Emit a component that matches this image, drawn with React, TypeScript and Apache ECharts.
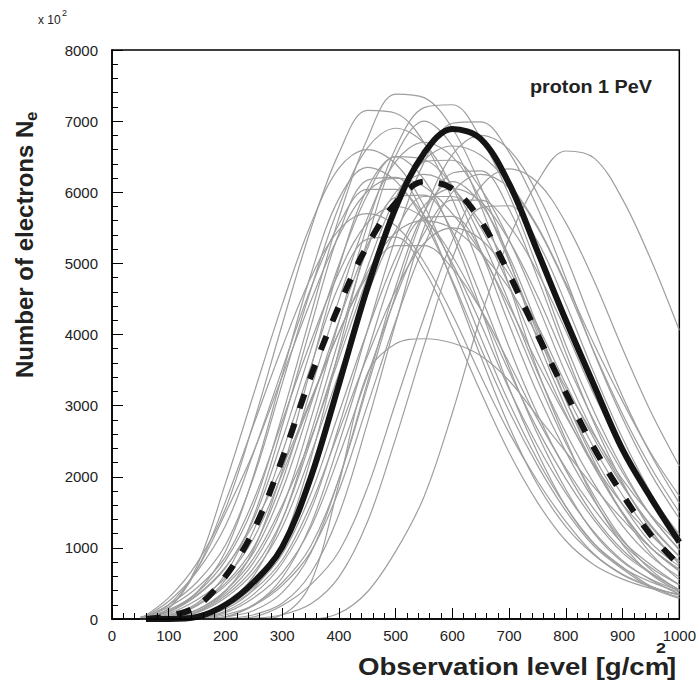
import React, { useEffect, useRef } from "react";
import * as echarts from "echarts";

// Observation levels (g/cm^2) at which the gray showers are sampled
const X_GRID = [50, 100, 150, 200, 250, 300, 350, 400, 450, 500, 550, 600, 650, 700, 750, 800, 850, 900, 950, 1000];

// Individual showers (x 10^2 electrons)
const g01 = [20, 110, 370, 820, 1600, 2860, 4270, 5640, 6750, 7380, 7330, 6900, 6080, 5050, 3930, 2970, 2150, 1480, 1000, 670];
const g02 = [0, 10, 110, 360, 800, 1560, 2800, 4180, 5530, 6620, 7190, 7230, 6760, 5960, 4940, 3850, 2910, 2110, 1450, 980];
const g03 = [0, 300, 790, 1550, 2770, 4140, 5470, 6550, 7150, 7110, 6700, 5900, 4900, 3820, 2880, 2090, 1440, 970, 650, 410];
const g04 = [0, 0, 10, 110, 350, 780, 1520, 2710, 4050, 5360, 6420, 6970, 6990, 6560, 5780, 4790, 3740, 2820, 2040, 1410];
const g05 = [0, 150, 750, 1910, 3170, 4420, 5540, 6340, 6600, 6400, 5810, 4950, 3960, 3040, 2240, 1580, 1060, 730, 460, 300];
const g06 = [0, 0, 0, 30, 200, 510, 1020, 1970, 3260, 4560, 5710, 6530, 6800, 6600, 5980, 5100, 4080, 3130, 2310, 1630];
const g07 = [0, 0, 0, 0, 30, 190, 480, 950, 1840, 3040, 4240, 5320, 6080, 6330, 6140, 5570, 4750, 3800, 2910, 2150];
const g08 = [0, 0, 40, 140, 420, 1050, 2240, 3780, 5320, 6510, 7000, 6650, 5810, 4690, 3500, 2520, 1680, 1050, 630, 390];
const g09 = [0, 200, 520, 1040, 2000, 3310, 4620, 5800, 6620, 6900, 6690, 6070, 5180, 4140, 3170, 2350, 1660, 1100, 760, 480];
const g10 = [0, 30, 130, 400, 860, 1600, 2530, 3660, 4790, 5790, 6450, 6650, 6520, 6120, 5520, 4720, 3860, 3060, 2330, 1730];
const g11 = [30, 130, 380, 950, 2030, 3430, 4830, 5910, 6350, 6160, 5590, 4760, 3810, 2920, 2160, 1520, 1020, 700, 440, 290];
const g12 = [10, 100, 330, 720, 1410, 2520, 3770, 4980, 5960, 6500, 6460, 6090, 5370, 4450, 3470, 2620, 1900, 1310, 880, 590];
const g13 = [0, 10, 100, 330, 720, 1400, 2500, 3740, 4940, 5920, 6430, 6450, 6050, 5330, 4420, 3450, 2600, 1890, 1300, 880];
const g14 = [0, 0, 0, 10, 60, 220, 640, 1470, 2750, 4160, 5500, 6270, 6300, 5760, 4800, 3740, 2750, 1920, 1250, 770];
const g15 = [10, 60, 220, 630, 1450, 2710, 4100, 5420, 6170, 6210, 5670, 4730, 3690, 2710, 1890, 1300, 900, 620, 450, 340];
const g16 = [0, 30, 190, 470, 940, 1810, 3000, 4190, 5250, 6000, 6250, 6060, 5500, 4690, 3750, 2880, 2130, 1500, 1000, 690];
const g17 = [0, 200, 700, 1490, 2360, 3410, 4460, 5390, 6010, 6200, 6080, 5700, 5150, 4400, 3600, 2850, 2170, 1610, 1180, 810];
const g18 = [0, 0, 0, 30, 120, 370, 920, 1970, 3320, 4670, 5720, 6150, 5840, 5100, 4120, 3080, 2210, 1480, 920, 550];
const g19 = [0, 0, 0, 30, 190, 470, 940, 1810, 3000, 4190, 5250, 6000, 6250, 6060, 5500, 4690, 3750, 2880, 2130, 1500];
const g20 = [0, 250, 670, 1310, 2350, 3510, 4640, 5550, 6040, 6040, 5670, 5000, 4150, 3230, 2440, 1770, 1220, 820, 550, 350];
const g21 = [0, 10, 60, 210, 610, 1390, 2600, 3930, 5200, 5930, 5960, 5450, 4540, 3540, 2600, 1820, 1200, 800, 560, 400];
const g22 = [0, 10, 90, 300, 660, 1290, 2310, 3450, 4560, 5460, 5940, 5940, 5580, 4920, 4080, 3180, 2400, 1740, 1200, 810];
const g23 = [0, 0, 10, 90, 300, 650, 1280, 2290, 3420, 4520, 5420, 5890, 5890, 5530, 4880, 4050, 3150, 2380, 1730, 1190];
const g24 = [0, 170, 440, 870, 1680, 2780, 3890, 4870, 5570, 5800, 5630, 5100, 4350, 3480, 2670, 1970, 1390, 930, 640, 410];
const g25 = [0, 0, 10, 60, 200, 580, 1320, 2470, 3740, 4950, 5640, 5660, 5180, 4310, 3360, 2470, 1730, 1120, 690, 400];
const g26 = [0, 150, 700, 1650, 2740, 3820, 4790, 5470, 5700, 5530, 5020, 4280, 3420, 2620, 1940, 1370, 910, 630, 460, 330];
const g27 = [0, 110, 340, 730, 1340, 2130, 3080, 4030, 4870, 5430, 5600, 5490, 5150, 4650, 3980, 3250, 2580, 1960, 1460, 1060];
const g28 = [0, 0, 30, 170, 410, 830, 1600, 2640, 3690, 4620, 5280, 5500, 5340, 4840, 4130, 3300, 2530, 1870, 1320, 880];
const g29 = [10, 50, 190, 550, 1250, 2340, 3540, 4690, 5340, 5370, 4910, 4090, 3190, 2340, 1640, 1100, 760, 560, 430, 350];
const g30 = [0, 0, 0, 0, 10, 60, 210, 590, 1360, 2540, 3840, 5070, 5780, 5810, 5310, 4430, 3450, 2540, 1770, 1150];
const g31 = [10, 80, 270, 580, 1140, 2040, 3050, 4030, 4820, 5250, 5250, 4930, 4350, 3600, 2810, 2120, 1540, 1060, 720, 480];
const g32 = [0, 0, 30, 180, 450, 910, 1750, 2900, 4050, 5080, 5810, 6050, 5870, 5320, 4540, 3630, 2780, 2060, 1450, 970];
const g33 = [0, 30, 130, 390, 980, 2080, 3510, 4940, 6050, 6500, 6180, 5400, 4360, 3250, 2340, 1580, 1050, 720, 520, 380];
const g34 = [0, 30, 200, 500, 1010, 1940, 3220, 4490, 5630, 6430, 6700, 6500, 5900, 5030, 4020, 3080, 2280, 1610, 1070, 740];
const gFlat = [0, 0, 0, 0, 0, 60, 500, 1900, 3450, 3870, 3940, 3880, 3700, 3350, 2850, 2350, 1850, 1400, 1000, 700];
const gLate = [0, 0, 0, 0, 0, 0, 0, 80, 380, 950, 1720, 2900, 4250, 5350, 6150, 6580, 6480, 5900, 5050, 4060];

const GRAY_CURVES = [g01, g02, g03, g04, g05, g06, g07, g08, g09, g10, g11, g12, g13, g14, g15, g16, g17,
  g18, g19, g20, g21, g22, g23, g24, g25, g26, g27, g28, g29, g30, g31, g32, g33, g34, gFlat, gLate];

// Thick black curves
const SOLID_X = [60, 100, 150, 200, 250, 300, 350, 400, 450, 500, 550, 600, 650, 700, 750, 800, 850, 900, 950, 1000];
const SOLID_Y = [0, 0, 30, 200, 520, 1010, 1980, 3300, 4650, 5780, 6550, 6890, 6750, 6120, 5170, 4200, 3280, 2380, 1700, 1080];
const DASH_X = [60, 100, 150, 200, 250, 300, 350, 400, 450, 500, 550, 600, 650, 700, 750, 800, 850, 900, 950, 1000];
const DASH_Y = [0, 40, 180, 600, 1250, 2250, 3400, 4400, 5250, 5850, 6150, 6050, 5600, 4850, 4000, 3180, 2400, 1750, 1180, 760];

const X_TICKS = { min: 0, max: 1000, interval: 100 };
const Y_TICKS = { min: 0, max: 8000, interval: 1000 };

const FF = '"Liberation Sans", Arial, Helvetica, sans-serif';

export default function App() {
  const ref = useRef<HTMLDivElement>(null);
  useEffect(() => {
    if (!ref.current) return;
    const chart = echarts.init(ref.current, undefined, { renderer: "svg" });
    const pairs = (xs: number[], ys: number[]) => xs.map((x, i) => [x, ys[i]]);
    const series: any[] = GRAY_CURVES.map((c, i) => ({
      type: "line",
      name: "shower" + (i + 1),
      data: pairs(X_GRID, c),
      showSymbol: false,
      symbol: "none",
      smooth: 0.35,
      silent: true,
      z: 2,
      lineStyle: { color: "#9e9e9e", width: 1.2 },
    }));
    series.push({
      type: "line",
      name: "solid",
      data: pairs(SOLID_X, SOLID_Y),
      showSymbol: false,
      symbol: "none",
      smooth: 0.35,
      clip: false,
      z: 4,
      lineStyle: { color: "#141414", width: 6 },
    });
    series.push({
      type: "line",
      name: "dashed",
      data: pairs(DASH_X, DASH_Y),
      showSymbol: false,
      symbol: "none",
      smooth: 0.35,
      clip: false,
      z: 5,
      lineStyle: { color: "#141414", width: 6, type: [15, 16], cap: "butt" },
    });

    const axisCommon = {
      axisLine: { show: true, onZero: false, lineStyle: { color: "#000", width: 1.5 } },
      axisTick: { show: true, inside: true, length: 11, lineStyle: { color: "#000", width: 1 } },
      minorTick: { show: true, splitNumber: 5, length: 6, lineStyle: { color: "#000", width: 1 } },
      splitLine: { show: false },
      minorSplitLine: { show: false },
      z: 6,
    };
    const plain = (v: number) => String(v);

    chart.setOption({
      animation: false,
      backgroundColor: "#fff",
      grid: { left: 112, right: 17, top: 50, bottom: 65, show: true, borderColor: "#000", borderWidth: 1.5, backgroundColor: "transparent" },
      xAxis: {
        type: "value",
        ...X_TICKS,
        ...axisCommon,
        axisLabel: { fontSize: 15, color: "#222", margin: 9, fontFamily: FF, formatter: plain },
      },
      yAxis: {
        type: "value",
        ...Y_TICKS,
        ...axisCommon,
        axisLabel: { fontSize: 15, color: "#222", margin: 14, fontFamily: FF, formatter: plain },
      },
      series,
      graphic: [
        { type: "text", x: 38, y: 20, style: { text: "x 10", fontSize: 12, fontFamily: FF, fill: "#222", align: "left", verticalAlign: "middle" } },
        { type: "text", x: 62, y: 13, style: { text: "2", fontSize: 9, fontFamily: FF, fill: "#222", align: "left", verticalAlign: "middle" } },
        { type: "text", x: 530, y: 87, scaleX: 1.13, style: { text: "proton 1 PeV", fontSize: 17.5, fontWeight: "bold", fontFamily: FF, fill: "#222", align: "left", verticalAlign: "middle" } },
        { type: "text", x: 358, y: 667, scaleX: 1.2, style: { text: "Observation level [g/cm", fontSize: 23, fontWeight: "bold", fontFamily: FF, fill: "#222", align: "left", verticalAlign: "middle" } },
        { type: "text", x: 656, y: 648, scaleX: 1.19, style: { text: "2", fontSize: 15, fontWeight: "bold", fontFamily: FF, fill: "#222", align: "left", verticalAlign: "middle" } },
        { type: "text", x: 667, y: 667, scaleX: 1.19, style: { text: "]", fontSize: 23, fontWeight: "bold", fontFamily: FF, fill: "#222", align: "left", verticalAlign: "middle" } },
        { type: "text", x: 24, y: 378, rotation: Math.PI / 2, style: { text: "Number of electrons N", fontSize: 24, fontWeight: "bold", fontFamily: FF, fill: "#222", align: "left", verticalAlign: "middle" } },
        { type: "text", x: 31, y: 121, rotation: Math.PI / 2, style: { text: "e", fontSize: 17, fontWeight: "bold", fontFamily: FF, fill: "#222", align: "left", verticalAlign: "middle" } },
      ],
    });
    return () => chart.dispose();
  }, []);
  return <div ref={ref} style={{ position: "fixed", left: 0, top: 0, width: 699, height: 684, background: "#fff" }} />;
}
